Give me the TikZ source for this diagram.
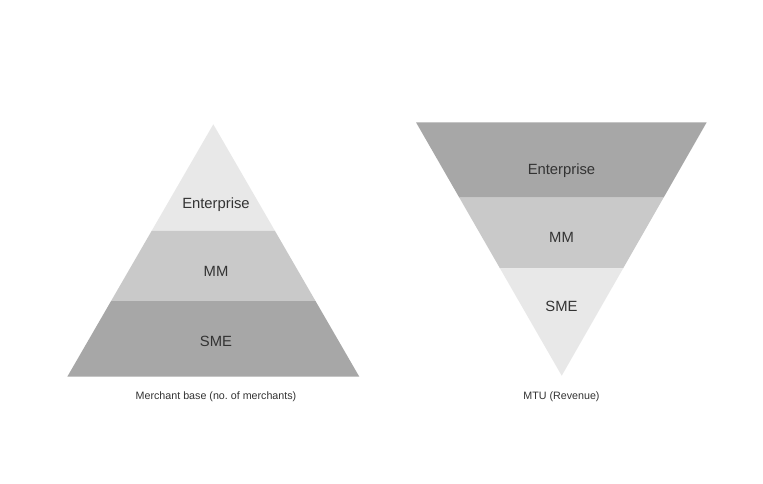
\documentclass[tikz,border=0pt]{standalone}
\usepackage{fontspec}
\setmainfont{Liberation Sans}
\usetikzlibrary{calc}
\definecolor{tierlight}{HTML}{E8E8E8}
\definecolor{tiermid}{HTML}{C9C9C9}
\definecolor{tierdark}{HTML}{A7A7A7}
\definecolor{txt}{HTML}{333333}
\frenchspacing
\begin{document}
\begin{tikzpicture}[x=1pt,y=-1pt,
  tier/.style={font=\fontsize{14.8}{17}\selectfont, text=txt, inner sep=0pt, anchor=base},
  caption/.style={font=\fontsize{10.7}{12}\selectfont, text=txt, inner sep=0pt, anchor=base}]
\useasboundingbox[fill=white] (0,0) rectangle (763,484);
% left pyramid
\coordinate (LA) at (213.3,124.3);
\coordinate (LBL) at (67.3,376.7);
\coordinate (LBR) at (359.3,376.7);
\coordinate (L1l) at ($(LA)!0.4227!(LBL)$);
\coordinate (L1r) at ($(LA)!0.4227!(LBR)$);
\coordinate (L2l) at ($(LA)!0.7001!(LBL)$);
\coordinate (L2r) at ($(LA)!0.7001!(LBR)$);
\fill[tierlight] (LA) -- (L1r) -- (L1l) -- cycle;
\fill[tiermid] (L1l) -- (L1r) -- (L2r) -- (L2l) -- cycle;
\fill[tierdark] (L2l) -- (L2r) -- (LBR) -- (LBL) -- cycle;
\node[tier] (lent) at (216,208.5) {Enterprise};
\node[tier] (lmm) at (216,276) {MM};
\node[tier] (lsme) at (216,346) {SME};
\node[caption] (lcap) at (216,399) {Merchant base (no.\ of merchants)};
% right inverted pyramid
\coordinate (RTL) at (416,122.3);
\coordinate (RTR) at (706.7,122.3);
\coordinate (RA) at (561.7,375.7);
\coordinate (R1l) at ($(RTL)!0.2974!(RA)$);
\coordinate (R1r) at ($(RTR)!0.2974!(RA)$);
\coordinate (R2l) at ($(RTL)!0.5760!(RA)$);
\coordinate (R2r) at ($(RTR)!0.5760!(RA)$);
\fill[tierdark] (RTL) -- (RTR) -- (R1r) -- (R1l) -- cycle;
\fill[tiermid] (R1l) -- (R1r) -- (R2r) -- (R2l) -- cycle;
\fill[tierlight] (R2l) -- (R2r) -- (RA) -- cycle;
\node[tier] (rent) at (561.5,174.5) {Enterprise};
\node[tier] (rmm) at (561.5,242) {MM};
\node[tier] (rsme) at (561.5,311) {SME};
\node[caption] (rcap) at (561.5,399) {MTU (Revenue)};
\end{tikzpicture}
\end{document}
